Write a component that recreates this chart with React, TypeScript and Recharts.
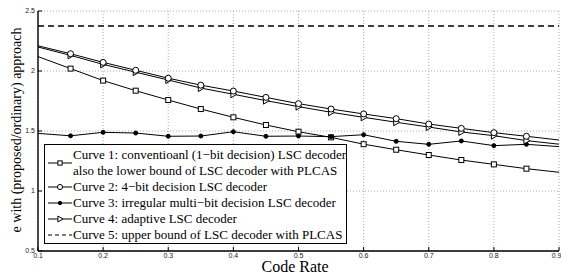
import React from 'react';
import { LineChart, Line, XAxis, YAxis, CartesianGrid, Legend } from 'recharts';

const rate = [0.1, 0.15, 0.2, 0.25, 0.3, 0.35, 0.4, 0.45, 0.5, 0.55, 0.6, 0.65, 0.7, 0.75, 0.8, 0.85, 0.9];
const curve1 = [2.12, 2.02, 1.92, 1.836, 1.758, 1.683, 1.614, 1.55, 1.494, 1.447, 1.39, 1.344, 1.3, 1.258, 1.222, 1.186, 1.156];
const curve2 = [2.21, 2.144, 2.072, 2.006, 1.94, 1.882, 1.833, 1.78, 1.728, 1.683, 1.642, 1.603, 1.558, 1.522, 1.486, 1.456, 1.425];
const curve3 = [1.48, 1.46, 1.489, 1.483, 1.456, 1.458, 1.494, 1.456, 1.458, 1.453, 1.469, 1.414, 1.389, 1.417, 1.378, 1.389, 1.37];
const curve4 = [2.2, 2.13, 2.055, 1.99, 1.925, 1.858, 1.806, 1.753, 1.703, 1.656, 1.614, 1.573, 1.533, 1.492, 1.461, 1.42, 1.39];
const curve5 = [2.375, 2.375, 2.375, 2.375, 2.375, 2.375, 2.375, 2.375, 2.375, 2.375, 2.375, 2.375, 2.375, 2.375, 2.375, 2.375, 2.375];

const xTicks = [0.1, 0.2, 0.3, 0.4, 0.5, 0.6, 0.7, 0.8, 0.9];
const yTicks = [0.5, 1, 1.5, 2, 2.5];

const legendLabels = [
  ['Curve 1: conventioanl (1\u2212bit decision) LSC decoder', 'also the lower bound of LSC decoder with PLCAS'],
  ['Curve 2: 4\u2212bit decision LSC decoder'],
  ['Curve 3: irregular multi\u2212bit decision LSC decoder'],
  ['Curve 4: adaptive LSC decoder'],
  ['Curve 5: upper bound of LSC decoder with PLCAS'],
];

const data = rate.map((r, i) => ({
  rate: r,
  c1: curve1[i],
  c2: curve2[i],
  c3: curve3[i],
  c4: curve4[i],
  c5: curve5[i],
}));

const serif = '"Liberation Serif", "Times New Roman", serif';
const sans = '"Liberation Sans", Arial, sans-serif';

const Marker = ({ kind, cx, cy, s = 1 }: { kind: string; cx: number; cy: number; s?: number }) => {
  if (kind === 'square') return <rect x={cx - 2.5 * s} y={cy - 2.5 * s} width={5 * s} height={5 * s} fill="#fff" stroke="#000" strokeWidth={1} />;
  if (kind === 'circle') return <circle cx={cx} cy={cy} r={3 * s} fill="#fff" stroke="#000" strokeWidth={1} />;
  if (kind === 'dot') return <circle cx={cx} cy={cy} r={2 * s} fill="#000" stroke="#000" />;
  if (kind === 'tri')
    return (
      <polygon
        points={`${cx - 2.5 * s},${cy - 3.5 * s} ${cx + 3.5 * s},${cy} ${cx - 2.5 * s},${cy + 3.5 * s}`}
        fill="#fff"
        stroke="#000"
        strokeWidth={1}
      />
    );
  return null;
};

const makeDot = (kind: string) => (props: any) => {
  const { cx, cy, index } = props;
  if (index === 0 || index === rate.length - 1 || cx == null) return <g key={`${kind}-${index}`} />;
  return (
    <g key={`${kind}-${index}`}>
      <Marker kind={kind} cx={cx} cy={cy} />
    </g>
  );
};

const kinds = ['square', 'circle', 'dot', 'tri', 'dash'];

const renderLegend = () => (
  <div
    style={{
      boxSizing: 'border-box',
      width: 303,
      height: 100,
      border: '1.5px solid #000',
      background: '#fff',
      paddingTop: 1.5,
      fontFamily: serif,
      fontSize: 13,
      lineHeight: '16px',
      color: '#000',
    }}
  >
    {legendLabels.map((lines, i) => (
      <div key={i} style={{ display: 'flex', alignItems: 'center', height: lines.length * 16 }}>
        <svg width={28} height={16} style={{ flex: 'none' }}>
          <line x1={3} x2={27} y1={8} y2={8} stroke="#000" strokeWidth={1} strokeDasharray={kinds[i] === 'dash' ? '4 3' : undefined} />
          <Marker kind={kinds[i]} cx={15} cy={8} s={0.85} />
        </svg>
        <div style={{ whiteSpace: 'nowrap' }}>
          {lines.map((l, j) => (
            <div key={j}>{l}</div>
          ))}
        </div>
      </div>
    ))}
  </div>
);

const tickStyle = { fontFamily: sans, fontSize: 7, fill: '#222' };
const axisLine = { stroke: '#000', strokeWidth: 1.4 };

export default function App() {
  return (
    <div style={{ position: 'absolute', left: 0, top: 0, width: 561, height: 275, background: '#fff' }}>
      <LineChart width={561} height={275} data={data} margin={{ top: 11, right: 2, bottom: 0, left: 0 }}>
        <CartesianGrid stroke="#aaa" strokeDasharray="1 2" />
        <XAxis
          dataKey="rate"
          type="number"
          domain={[0.1, 0.9]}
          ticks={xTicks}
          height={24}
          stroke="#000"
          axisLine={axisLine}
          tickSize={-4}
          tickMargin={6}
          tick={tickStyle}
          label={() => (
            <text x={295} y={272} textAnchor="middle" fontFamily={serif} fontSize={16} fill="#000">
              Code Rate
            </text>
          )}
        />
        <XAxis
          xAxisId="top"
          orientation="top"
          dataKey="rate"
          type="number"
          domain={[0.1, 0.9]}
          ticks={xTicks}
          height={0}
          stroke="#000"
          axisLine={axisLine}
          tickSize={-4}
          tick={{ fill: 'none', fontSize: 1 }}
        />
        <YAxis
          type="number"
          domain={[0.5, 2.5]}
          ticks={yTicks}
          width={38}
          stroke="#000"
          axisLine={axisLine}
          tickSize={-4}
          tickMargin={7}
          tick={tickStyle}
          label={() => (
            <text
              x={21}
              y={130}
              transform="rotate(-90 21 130)"
              textAnchor="middle"
              fontFamily={serif}
              fontSize={14}
              fill="#000"
            >
              e with (proposed/ordinary) approach
            </text>
          )}
        />
        <YAxis
          yAxisId="right"
          orientation="right"
          type="number"
          domain={[0.5, 2.5]}
          ticks={yTicks}
          width={0}
          stroke="#000"
          axisLine={axisLine}
          tickSize={-4}
          tick={{ fill: 'none', fontSize: 1 }}
        />
        <Legend
          layout="vertical"
          align="center"
          verticalAlign="middle"
          content={renderLegend}
          wrapperStyle={{ left: 44, top: 144, width: 303, height: 100 }}
        />
        <Line dataKey="c5" stroke="#000" strokeWidth={1.3} strokeDasharray="6 4" dot={false} isAnimationActive={false} />
        <Line dataKey="c1" stroke="#000" strokeWidth={1} dot={makeDot('square')} isAnimationActive={false} />
        <Line dataKey="c3" stroke="#000" strokeWidth={1} dot={makeDot('dot')} isAnimationActive={false} />
        <Line dataKey="c4" stroke="#000" strokeWidth={1} dot={makeDot('tri')} isAnimationActive={false} />
        <Line dataKey="c2" stroke="#000" strokeWidth={1} dot={makeDot('circle')} isAnimationActive={false} />
        <Line xAxisId="top" yAxisId="right" dataKey="c5" stroke="none" dot={false} legendType="none" isAnimationActive={false} />
      </LineChart>
    </div>
  );
}
